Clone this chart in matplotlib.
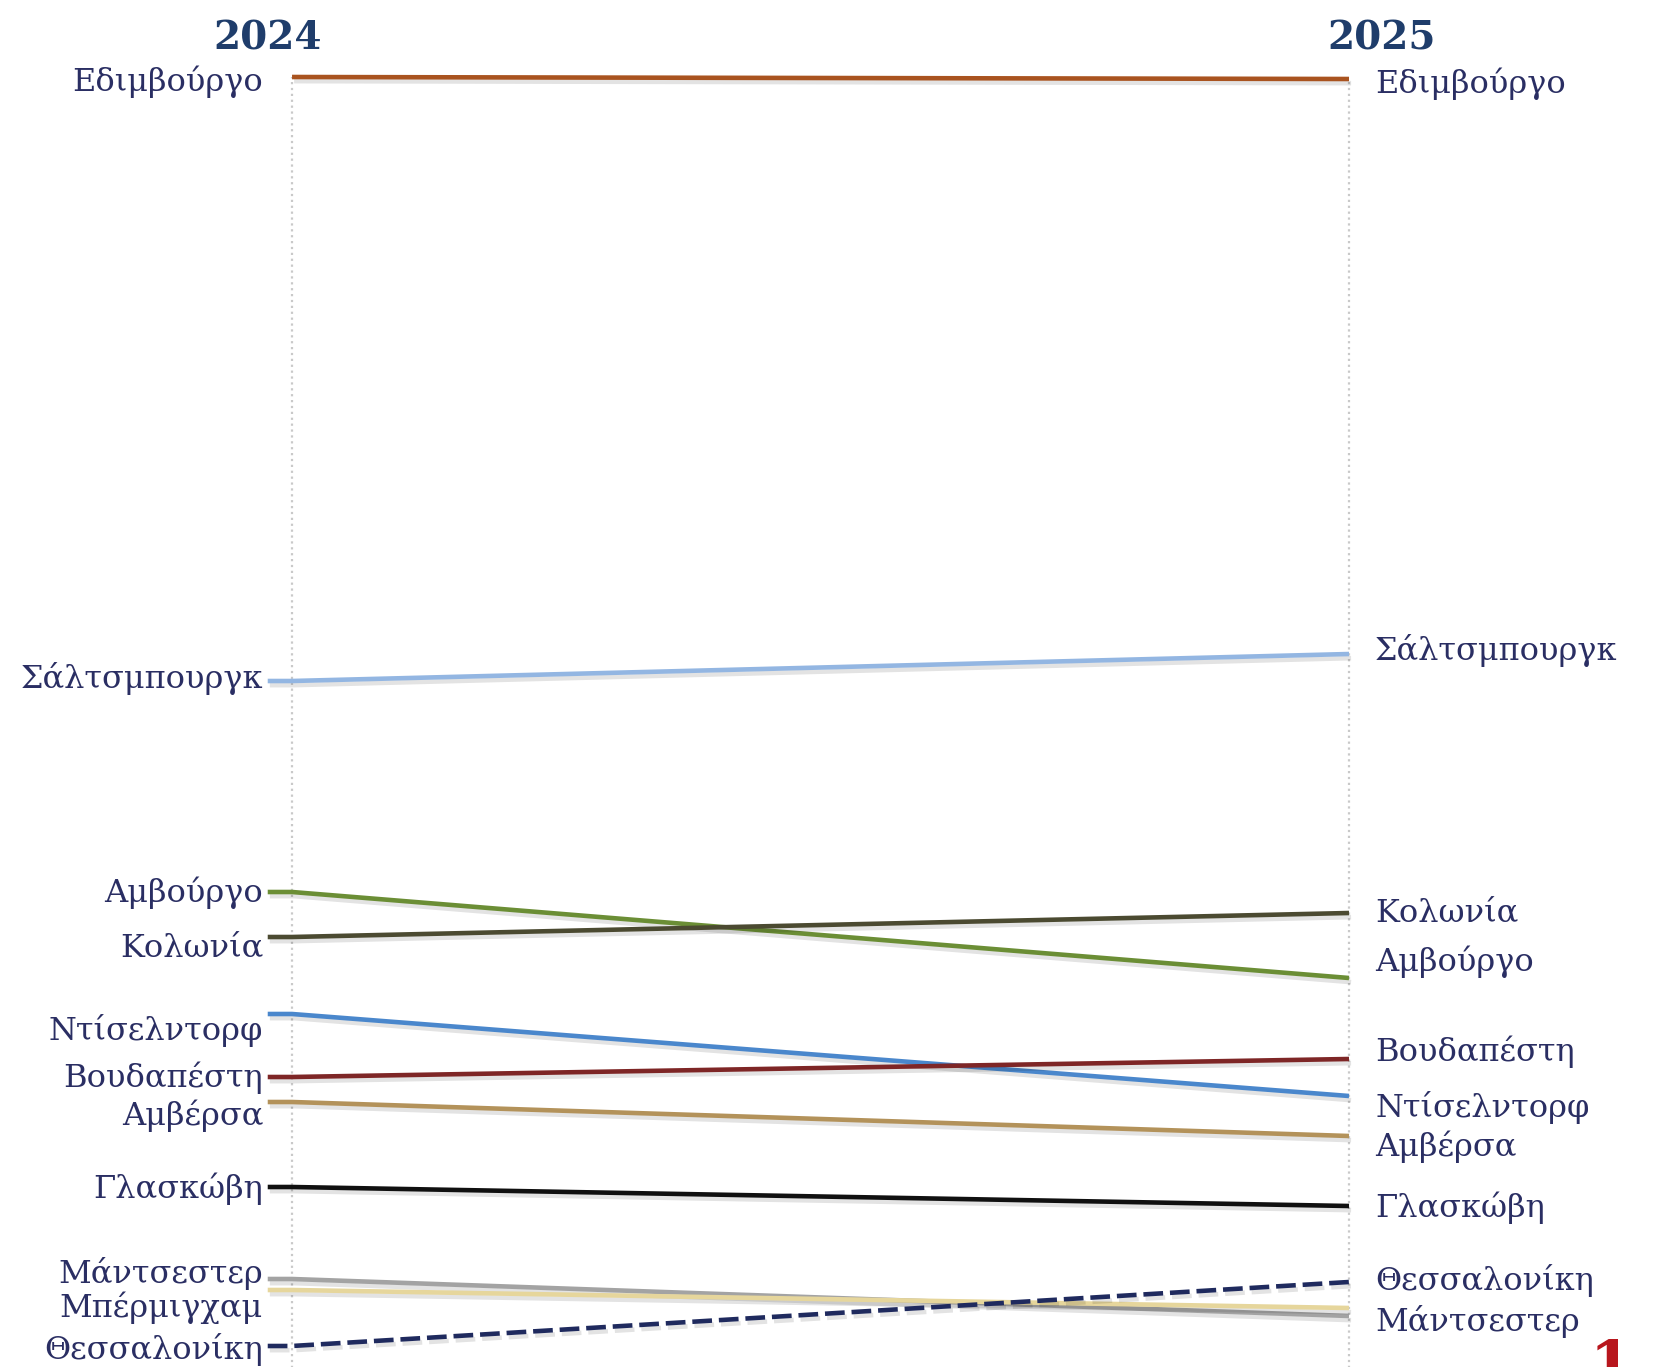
import matplotlib.pyplot as plt
import matplotlib.patheffects as pe

# slope chart 2024 -> 2025
cities = ['Εδιμβούργο', 'Σάλτσμπουργκ', 'Αμβούργο', 'Κολωνία', 'Ντίσελντορφ',
          'Βουδαπέστη', 'Αμβέρσα', 'Γλασκώβη', 'Μάντσεστερ', 'Μπέρμιγχαμ',
          'Θεσσαλονίκη']
v2024 = [264.6, 143.8, 101.6, 92.6, 77.2, 64.6, 59.6, 42.6, 24.2, 22.0, 10.8]
v2025 = [264.2, 149.2, 84.4, 97.4, 60.8, 68.2, 52.8, 38.8, 16.8, 18.4, 23.6]
years = ['2024', '2025']

colors = ['#A9531F', '#93B6E2', '#6B8E35', '#4B4A31', '#4A87CC', '#7E2626',
          '#B3925A', '#101010', '#A3A3A3', '#E6D69C', '#1F2A5E']
styles = ['-'] * 10 + ['--']

# label nudges in pixels (left, right); None = no label
nudge_left = [-5, 2, -1, -12, -17, -1, -14, -2, 5, -18, -4]
nudge_right = [-5, 3, 16, -1, -12, 7, -11, -2, -6, None, 1]

navy = '#2A2E63'
plt.rcParams['font.family'] = ['DejaVu Serif']

fig = plt.figure(figsize=(16.53, 13.67), dpi=100)
ax = fig.add_axes([0, 0, 1, 1])
ax.set_xlim(-0.2763, 1.2876)
ax.set_ylim(6.6, 280)
ax.axis('off')

# dotted guide lines
ax.vlines([0, 1], 0, [v2024[0], v2025[0]], colors='#C9C9C9', linestyles=':', linewidth=1.6, zorder=1)

shadow = [pe.SimpleLineShadow(offset=(1.5, -3), shadow_color='k', alpha=0.11), pe.Normal()]
stub = 0.023
for i, c in enumerate(cities):
    xs = [0, 1] if i == 0 else [-stub, 0, 1]
    ys = [v2024[i], v2025[i]] if i == 0 else [v2024[i], v2024[i], v2025[i]]
    ln, = ax.plot(xs, ys, color=colors[i], lw=3.3, ls=styles[i], zorder=3,
                  solid_capstyle='butt', path_effects=shadow)
    if styles[i] == '--':
        ln.set_dashes((4.3, 1.5))

    ax.annotate(c, xy=(0, v2024[i]), xytext=(-29, nudge_left[i]), textcoords='offset pixels',
                ha='right', va='center', fontsize=23, color=navy)
    if nudge_right[i] is not None:
        ax.annotate(c, xy=(1, v2025[i]), xytext=(26, nudge_right[i]), textcoords='offset pixels',
                    ha='left', va='center', fontsize=23, color=navy)

fig.text(268 / 1653, 1 - 50 / 1367, years[0], ha='center', va='baseline',
         fontsize=28, fontweight='bold', color='#1F3D6B')
fig.text(1382 / 1653, 1 - 50 / 1367, years[1], ha='center', va='baseline',
         fontsize=28, fontweight='bold', color='#1F3D6B')

# red page mark in the corner (cut by the edge, as in the original)
fig.text(1611 / 1653, 1 - 1338 / 1367, '1', ha='center', va='top',
         fontsize=44, fontweight='bold', color='#B8161D')

fig.savefig('out.png', dpi=100)
